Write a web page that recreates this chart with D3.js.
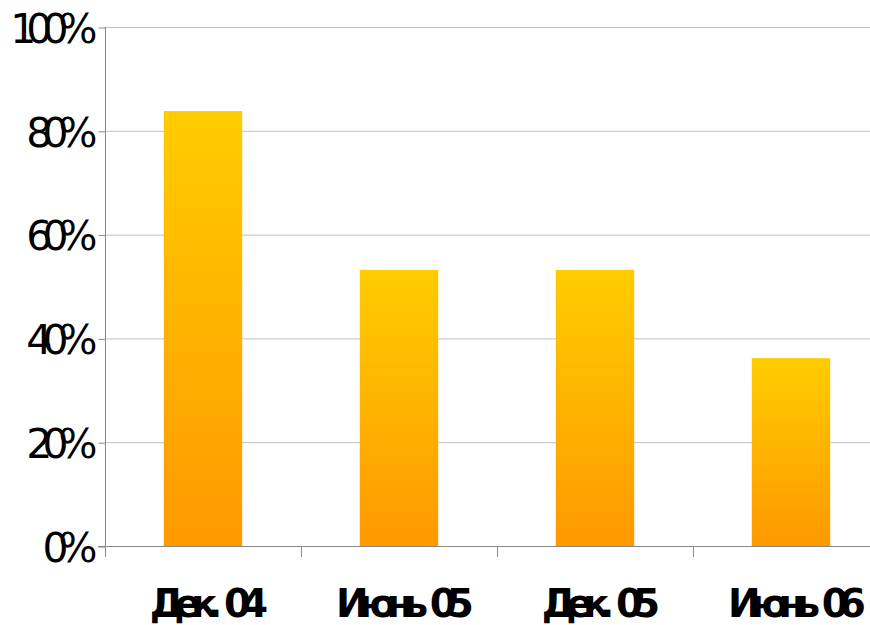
<!DOCTYPE html>
<html>
<head>
<meta charset="utf-8">
<script src="https://cdn.jsdelivr.net/npm/d3@7"></script>
<style>
  body { margin: 0; background: #fff; }
  svg { display: block; }
</style>
</head>
<body>
<svg id="chart" width="870" height="625"></svg>
<script>
var categories = ["Дек. 04", "Июнь 05", "Дек. 05", "Июнь 06"];
var values = [0.838, 0.532, 0.532, 0.362];
var yTicks = [0, 0.2, 0.4, 0.6, 0.8, 1];

var svg = d3.select("#chart"),
    plotLeft = 105, plotRight = 889, plotTop = 27, plotBottom = 546;

var x = d3.scaleBand().domain(categories).range([plotLeft, plotRight])
    .paddingInner(0.6).paddingOuter(0.3);
var y = d3.scaleLinear().domain([0, 1]).range([plotBottom, plotTop]);

var grad = svg.append("defs").append("linearGradient")
    .attr("id", "barGrad").attr("x1", 0).attr("y1", 0).attr("x2", 0).attr("y2", 1);
grad.append("stop").attr("offset", "0%").attr("stop-color", "#ffcc00");
grad.append("stop").attr("offset", "100%").attr("stop-color", "#ff9900");

// gridlines
svg.append("g").selectAll("line")
    .data(yTicks.filter(function(d) { return d > 0; }))
    .enter().append("line")
    .attr("x1", plotLeft).attr("x2", plotRight)
    .attr("y1", function(d) { return y(d) + 0.5; })
    .attr("y2", function(d) { return y(d) + 0.5; })
    .attr("stroke", "#c0c0c0").attr("stroke-width", 1);

// bars
svg.append("g").selectAll("rect")
    .data(values)
    .enter().append("rect")
    .attr("x", function(d, i) { return x(categories[i]); })
    .attr("width", x.bandwidth())
    .attr("y", function(d) { return y(d); })
    .attr("height", function(d) { return y(0) - y(d); })
    .attr("fill", "url(#barGrad)");

// y axis
var yAxis = svg.append("g")
    .attr("transform", "translate(" + (plotLeft + 0.5) + ",0.5)")
    .call(d3.axisLeft(y).tickValues(yTicks).tickSize(7).tickSizeOuter(0)
        .tickFormat(d3.format(".0%")));
yAxis.select(".domain").remove();
yAxis.selectAll(".tick line").attr("stroke", "#888");
yAxis.selectAll(".tick text")
    .attr("x", -18)
    .attr("dy", "0.36em")
    .attr("fill", "#000")
    .style("font-family", "DejaVu Sans")
    .style("font-size", "41px")
    .style("letter-spacing", "-10px");
svg.append("line")
    .attr("x1", plotLeft + 0.5).attr("x2", plotLeft + 0.5)
    .attr("y1", plotTop).attr("y2", plotBottom + 11)
    .attr("stroke", "#888");

// x axis
svg.append("line")
    .attr("x1", plotLeft - 7).attr("x2", plotRight)
    .attr("y1", plotBottom + 0.5).attr("y2", plotBottom + 0.5)
    .attr("stroke", "#888");
svg.append("g").selectAll("line")
    .data(categories.slice(1))
    .enter().append("line")
    .attr("x1", function(d) { return x(d) - x.bandwidth() * 0.75 + 0.5; })
    .attr("x2", function(d) { return x(d) - x.bandwidth() * 0.75 + 0.5; })
    .attr("y1", plotBottom).attr("y2", plotBottom + 11)
    .attr("stroke", "#888");

svg.append("g").selectAll("text")
    .data(categories)
    .enter().append("text")
    .attr("x", function(d) { return x(d) + x.bandwidth() / 2 + 1; })
    .attr("y", 617)
    .attr("text-anchor", "middle")
    .attr("fill", "#000")
    .style("font-family", "DejaVu Sans")
    .style("font-weight", "bold")
    .style("font-size", "39px")
    .style("letter-spacing", "-10px")
    .style("word-spacing", "8px")
    .text(function(d) { return d; });
</script>
</body>
</html>
